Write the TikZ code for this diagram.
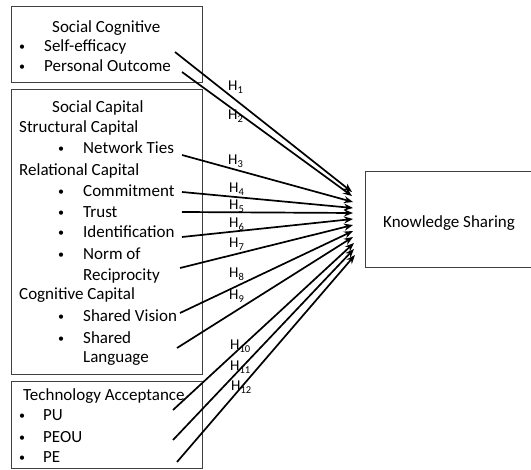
\documentclass[tikz,border=0pt]{standalone}
\usepackage{fontspec}
\setmainfont{Carlito}
\usetikzlibrary{arrows.meta}
\begin{document}
\begin{tikzpicture}[x=1pt,y=-1pt,
  frame/.style={draw=black!75,line width=0.9pt,inner sep=0pt,anchor=north west},
  txt/.style={anchor=base west,inner sep=0pt,font=\fontsize{17}{21}\selectfont},
  bul/.style={anchor=base,inner sep=0pt,font=\fontsize{12}{14}\selectfont,yshift=1.5pt},
  hyp/.style={anchor=base west,inner sep=0pt,font=\fontsize{15}{16}\selectfont},
  link/.style={line width=1.7pt,-{Stealth[length=9pt,width=7pt]}}]
\clip (0,0) rectangle (531,470);
\fill[white] (0,0) rectangle (531,470);

% construct boxes
\node[frame,minimum width=191pt,minimum height=76pt] (bsc) at (11,6) {};
\node[frame,minimum width=191pt,minimum height=285pt] (bcap) at (11,89) {};
\node[frame,minimum width=191pt,minimum height=87pt] (btam) at (11,381) {};
\node[frame,minimum width=180pt,minimum height=96pt] (bks) at (365,171) {};

% social cognitive
\node[txt] (tsc) at (52,33) {Social Cognitive};
\node[bul] (u1) at (22,52) {\textbullet};
\node[txt] (se) at (44,52) {Self-efficacy};
\node[bul] (u2) at (22,72) {\textbullet};
\node[txt] (po) at (44,72) {Personal Outcome};

% social capital
\node[txt] (tcap) at (52,113) {Social Capital};
\node[txt] (tstr) at (19,133) {Structural Capital};
\node[bul] (u3) at (61,154) {\textbullet};
\node[txt] (nt) at (83,154) {Network Ties};
\node[txt] (trel) at (19,176) {Relational Capital};
\node[bul] (u4) at (61,197) {\textbullet};
\node[txt] (cm) at (83,197) {Commitment};
\node[bul] (u5) at (61,218) {\textbullet};
\node[txt] (tr) at (83,218) {Trust};
\node[bul] (u6) at (61,238) {\textbullet};
\node[txt] (id) at (83,238) {Identification};
\node[bul] (u7) at (61,260) {\textbullet};
\node[txt] (nr1) at (83,260) {Norm of};
\node[txt] (nr2) at (83,281) {Reciprocity};
\node[txt] (tcog) at (19,300) {Cognitive Capital};
\node[bul] (u8) at (61,322) {\textbullet};
\node[txt] (sv) at (83,322) {Shared Vision};
\node[bul] (u9) at (61,344) {\textbullet};
\node[txt] (sl1) at (83,344) {Shared};
\node[txt] (sl2) at (83,363) {Language};

% technology acceptance
\node[txt] (ttam) at (23,401) {Technology Acceptance};
\node[bul] (u10) at (22,421) {\textbullet};
\node[txt] (pu) at (43,421) {PU};
\node[bul] (u11) at (22,443) {\textbullet};
\node[txt] (peou) at (43,443) {PEOU};
\node[bul] (u12) at (22,463) {\textbullet};
\node[txt] (pe) at (43,463) {PE};

% outcome
\node[txt] (ks) at (383,228) {Knowledge Sharing};

% connector end points
\coordinate (a1) at (175,52);   \coordinate (t1) at (352,192);
\coordinate (a2) at (182,72);   \coordinate (t2) at (352,196);
\coordinate (a3) at (182,155);  \coordinate (t3) at (353,202);
\coordinate (a4) at (182,192);  \coordinate (t4) at (353,208);
\coordinate (a5) at (182,212);  \coordinate (t5) at (353,213);
\coordinate (a6) at (182,237);  \coordinate (t6) at (353,219);
\coordinate (a7) at (180,268);  \coordinate (t7) at (353,225);
\coordinate (a8) at (180,313);  \coordinate (t8) at (353,231);
\coordinate (a9) at (177,348);  \coordinate (t9) at (353,237);
\coordinate (a10) at (173,410); \coordinate (t10) at (354,243);
\coordinate (a11) at (173,440); \coordinate (t11) at (354,249);
\coordinate (a12) at (177,462); \coordinate (t12) at (355,255);

\foreach \i in {1,...,12} \draw[link] (a\i) -- (t\i);

% hypothesis labels
\node[hyp] (h1) at (228,91) {H\textsubscript{1}};
\node[hyp] (h2) at (228,120) {H\textsubscript{2}};
\node[hyp] (h3) at (228,165) {H\textsubscript{3}};
\node[hyp] (h4) at (229,193) {H\textsubscript{4}};
\node[hyp] (h5) at (229,210) {H\textsubscript{5}};
\node[hyp] (h6) at (229,228) {H\textsubscript{6}};
\node[hyp] (h7) at (229,248) {H\textsubscript{7}};
\node[hyp] (h8) at (229,278) {H\textsubscript{8}};
\node[hyp] (h9) at (229,300) {H\textsubscript{9}};
\node[hyp] (h10) at (230,350) {H\textsubscript{10}};
\node[hyp] (h11) at (230,371) {H\textsubscript{11}};
\node[hyp] (h12) at (231,391) {H\textsubscript{12}};
\end{tikzpicture}
\end{document}
